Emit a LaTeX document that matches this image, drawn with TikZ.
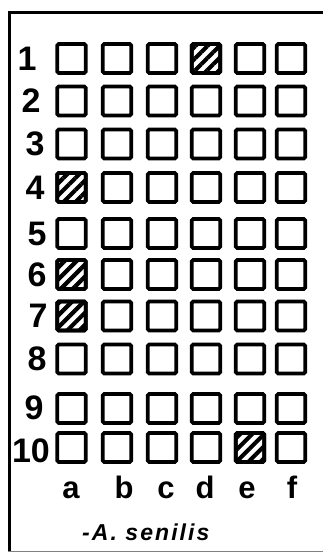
\documentclass[tikz,border=0pt]{standalone}
\usepackage{fontspec}
\setmainfont{Liberation Sans}
\usetikzlibrary{patterns.meta}
\begin{document}
\begin{tikzpicture}[x=1pt,y=-1pt,
  cell/.style={draw=black,line width=3.8pt,rounded corners=1.5pt,minimum width=28.5pt,minimum height=29pt,inner sep=0pt},
  hatched/.style={cell,pattern={Lines[angle=45,distance=8.5pt,line width=4.2pt]}},
  rowlab/.style={font=\fontsize{34}{34}\selectfont\bfseries,inner sep=0pt},
  collab/.style={font=\fontsize{31}{31}\selectfont\bfseries,inner sep=0pt,anchor=base},
  caption/.style={font=\fontsize{23}{23}\selectfont\bfseries\itshape,inner sep=0pt,anchor=base west}]
\useasboundingbox (0,0) rectangle (323,554);
\fill[white] (0,0) rectangle (323,554);
% frame
\draw[line width=3.5pt] (9.5,551) -- (9.5,11);
\draw[line width=3pt] (8,12.5) -- (323,12.5);
\draw[line width=1.5pt,gray] (8,551.5) -- (323,551.5);
% grid
\def\colx{{71.5,117,162,206,250,291}}
\def\rowy{{58.5,101,144,187.5,233.5,274.5,316,359,408.5,447.5}}
\foreach \r in {1,...,10}{
  \foreach \c/\l in {1/a,2/b,3/c,4/d,5/e,6/f}{
    \pgfmathsetmacro{\xx}{\colx[\c-1]}
    \pgfmathsetmacro{\yy}{\rowy[\r-1]}
    \node[cell] (s\r\l) at (\xx,\yy) {};
  }
}
\foreach \n in {s1d,s4a,s6a,s7a,s10e}{
  \node[hatched] at (\n.center) {};
}
% row labels
\node[rowlab] (r1) at (27,58.5) {1};
\node[rowlab] (r2) at (31,101) {2};
\node[rowlab] (r3) at (35,144) {3};
\node[rowlab] (r4) at (35,188) {4};
\node[rowlab] (r5) at (37,234) {5};
\node[rowlab] (r6) at (37,275) {6};
\node[rowlab] (r7) at (38,316) {7};
\node[rowlab] (r8) at (37,359) {8};
\node[rowlab] (r9) at (34,408) {9};
\node[rowlab] (r10) at (31,451) {10};
% column labels
\node[collab] (ca) at (71,498) {a};
\node[collab] (cb) at (124,498) {b};
\node[collab] (cc) at (166,498) {c};
\node[collab] (cd) at (205,498) {d};
\node[collab] (ce) at (247,498) {e};
\node[collab] (cf) at (292,498) {f};
% caption
\node[caption] (cap) at (82,540) {\addfontfeature{LetterSpace=9}-A. senilis};
\end{tikzpicture}
\end{document}
